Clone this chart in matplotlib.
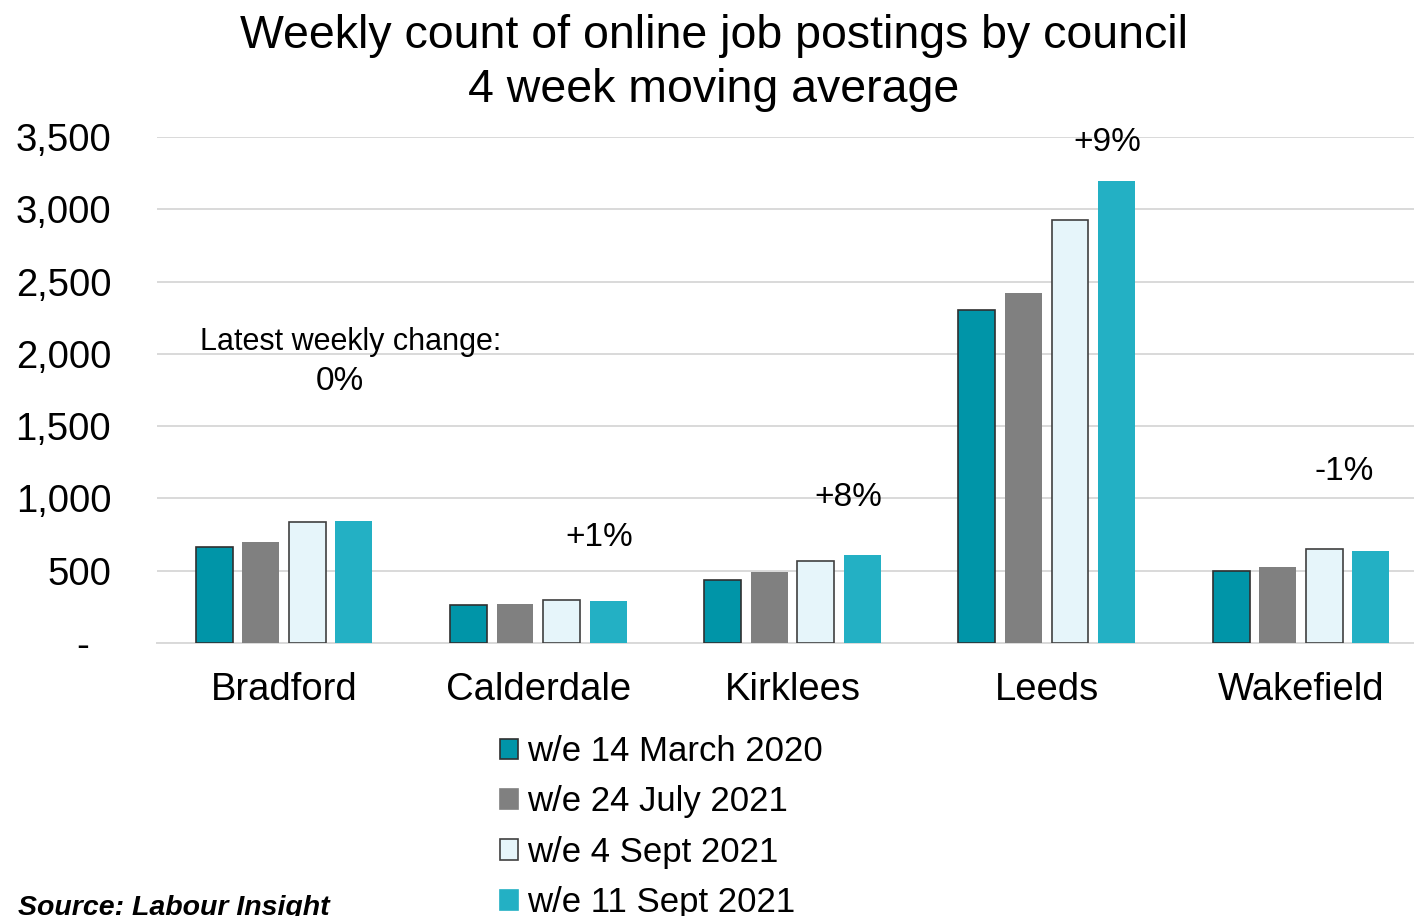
import numpy as np
import matplotlib
matplotlib.use("Agg")
import matplotlib.pyplot as plt
from matplotlib.patches import Patch

plt.rcParams['font.family'] = ['Liberation Sans', 'DejaVu Sans']

councils = ["Bradford", "Calderdale", "Kirklees", "Leeds", "Wakefield"]
series_names = ["w/e 14 March 2020", "w/e 24 July 2021", "w/e 4 Sept 2021", "w/e 11 Sept 2021"]

mar_2020 = [664, 265, 434, 2305, 497]
jul_2021 = [696, 270, 490, 2421, 529]
sep4_2021 = [837, 300, 568, 2929, 651]
sep11_2021 = [841, 290, 612, 3199, 633]

change_labels = ["0%", "+1%", "+8%", "+9%", "-1%"]

y_ticks = [0, 500, 1000, 1500, 2000, 2500, 3000, 3500]
y_tick_labels = ["-  ", "500", "1,000", "1,500", "2,000", "2,500", "3,000", "3,500"]

# styling
colors = ["#0095A8", "#808080", "#E6F5FA", "#23B0C4"]
edges = ["#303030", "none", "#404040", "none"]
label_y = [1812, 733, 1009, 3465, 1189]
label_dx = [0.22, 0.24, 0.22, 0.24, 0.17]

fig = plt.figure(figsize=(14.14, 9.16), dpi=100)
ax = fig.add_axes([157 / 1414, 273 / 916, 1271 / 1414, 506 / 916])

x = np.arange(len(councils))
step = 0.183
width = 0.145
all_series = [mar_2020, jul_2021, sep4_2021, sep11_2021]
for i, vals in enumerate(all_series):
    ax.bar(x + (i - 1.5) * step, vals, width, color=colors[i],
           edgecolor=edges[i], linewidth=1.2, zorder=3)

ax.set_xlim(-0.5, 4.5)
ax.set_ylim(0, 3500)
ax.set_yticks(y_ticks)
ax.set_yticklabels(y_tick_labels, fontsize=27.5)
ax.set_xticks(x)
ax.set_xticklabels(councils, fontsize=27.5)
ax.tick_params(axis='y', length=0, pad=33)
ax.tick_params(axis='x', length=0, pad=21)
ax.grid(axis='y', color='#D9D9D9', linewidth=1.4, zorder=0)
for s in ["left", "right", "top"]:
    ax.spines[s].set_visible(False)
ax.spines["bottom"].set_color('#D9D9D9')
ax.spines["bottom"].set_linewidth(1.4)

for i, lab in enumerate(change_labels):
    ax.text(x[i] + label_dx[i], label_y[i], lab, fontsize=24,
            ha='center', va='center', zorder=4)
ax.text(0.26, 2080, "Latest weekly change:", fontsize=22,
        ha='center', va='center')

fig.text(0.505, 1 - 36 / 916, "Weekly count of online job postings by council",
         fontsize=33.5, ha='center', va='center')
fig.text(0.505, 1 - 90 / 916, "4 week moving average",
         fontsize=33.5, ha='center', va='center')

handles = [Patch(facecolor=colors[i], edgecolor=edges[i] if edges[i] != "none" else colors[i],
                 linewidth=1.2) for i in range(4)]
fig.legend(handles, series_names, loc='upper left',
           bbox_to_anchor=(500 / 1414, 1 - 735 / 916), frameon=False,
           fontsize=25, handlelength=0.52, handleheight=0.52,
           handletextpad=0.26, labelspacing=0.5, borderpad=0, borderaxespad=0)

fig.text(18 / 1414, 1 - 908 / 916, "Source: Labour Insight", fontsize=20.5,
         fontweight='bold', style='italic', ha='left', va='center')

fig.savefig("out.png", dpi=100)
